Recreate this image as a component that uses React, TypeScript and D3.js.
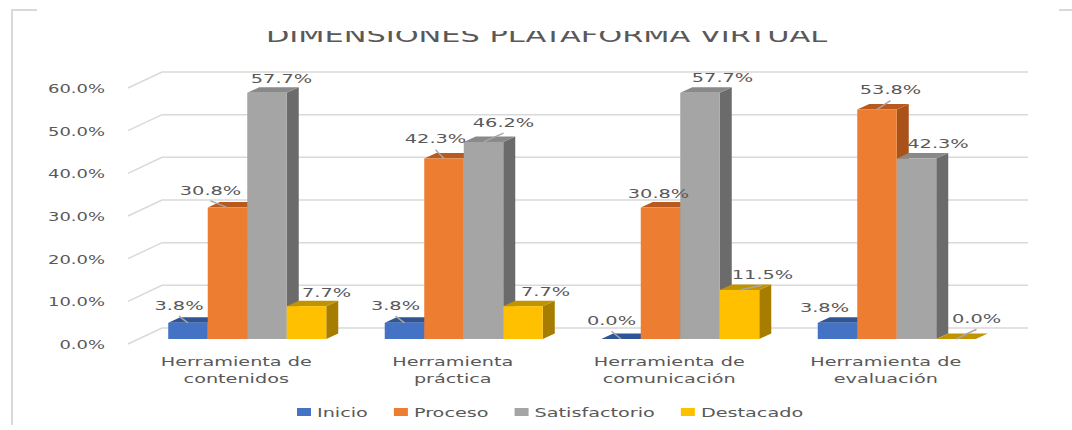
import React, { useEffect, useRef } from "react";
import * as d3 from "d3";

// ---------- data ----------
const title = "DIMENSIONES PLATAFORMA VIRTUAL";
const categories = [
  "Herramienta de contenidos",
  "Herramienta práctica",
  "Herramienta de comunicación",
  "Herramienta de evaluación",
];
const seriesNames = ["Inicio", "Proceso", "Satisfactorio", "Destacado"];
const inicio = [0.038, 0.038, 0.0, 0.038];
const proceso = [0.308, 0.423, 0.308, 0.538];
const satisfactorio = [0.577, 0.462, 0.577, 0.423];
const destacado = [0.077, 0.077, 0.115, 0.0];
const yTicks = [0, 0.1, 0.2, 0.3, 0.4, 0.5, 0.6];

// ---------- style ----------
const frontColors = ["#4472C4", "#ED7D31", "#A5A5A5", "#FFC000"];
const topColors = ["#2F5597", "#B85A1E", "#898989", "#C09400"];
const sideColors = ["#2E4F8A", "#A9521A", "#6B6B6B", "#A67D00"];
// label nudges [dx, dy] from the top-face centre, per series, per category
const labelNudge = [
  [[-15, -15], [-15, -15], [-15.5, -16], [-19, -13]],
  [[-23, -15], [-14.5, -17], [-8, -12], [7.5, -17]],
  [[8.5, -12], [14, -17], [16.5, -13], [15.5, -12]],
  [[14, -11.5], [16.5, -12], [17, -13], [14.5, -18]],
];
// [category, series] pairs that have a leader line
const leaders = [[0, 0], [0, 1], [1, 0], [1, 1], [1, 2], [2, 0], [2, 3], [3, 1], [3, 3]];

const W = 1072;
const H = 430;
const FONT = "'DejaVu Sans', Verdana, sans-serif";
const TEXT = "#595959";
const GRID = "#d9d9d9";

export default function App() {
  const ref = useRef<SVGSVGElement | null>(null);

  useEffect(() => {
    const svg = d3.select(ref.current);
    svg.selectAll("*").remove();

    const seriesValues = [inicio, proceso, satisfactorio, destacado];

    const frontLeft = 128;
    const frontRight = 994;
    const y = d3.scaleLinear().domain([0, 0.6]).range([344, 88]);
    const x0 = d3.scaleBand<string>().domain(categories).range([frontLeft, frontRight]).padding(0);
    const x1 = d3
      .scaleBand<string>()
      .domain(seriesNames)
      .range([0, x0.bandwidth()])
      .paddingInner(0)
      .paddingOuter(0.74);

    const backDx = 34, backDy = -16;
    const barDx = 11, barDy = -5;
    const depDx = 12, depDy = -5.5;

    const fmt = d3.format(".1%");

    // gridlines (back wall + left wall)
    const grid = svg.append("g");
    yTicks.forEach((t) => {
      const yf = y(t);
      grid
        .append("path")
        .attr("d", `M${frontLeft},${yf}L${frontLeft + backDx},${yf + backDy}H${frontRight + backDx}`)
        .attr("fill", "none")
        .attr("stroke", GRID)
        .attr("stroke-width", 1.5);
    });

    const stretchText = (
      g: any,
      txt: string,
      x: number,
      yy: number,
      size: number,
      sx: number,
      anchor: string,
      weight = "normal",
      color = TEXT
    ) =>
      g
        .append("text")
        .attr("transform", `translate(${x},${yy}) scale(${sx},1)`)
        .attr("text-anchor", anchor)
        .attr("font-family", FONT)
        .attr("font-size", size)
        .attr("font-weight", weight)
        .attr("fill", color)
        .text(txt);

    // y tick labels
    const axisG = svg.append("g");
    yTicks.forEach((t) => {
      stretchText(axisG, fmt(t), 105, y(t) + 5, 13, 1.38, "end");
    });

    // bars
    const barsG = svg.append("g");
    categories.forEach((cat, ci) => {
      seriesNames.forEach((s, si) => {
        const v = seriesValues[si][ci];
        const xl = (x0(cat) as number) + (x1(s) as number) + barDx;
        const w = x1.bandwidth();
        const yb = y(0) + barDy;
        const yt = y(v) + barDy;
        barsG
          .append("path")
          .attr("d", `M${xl + w},${yt}L${xl + w + depDx},${yt + depDy}L${xl + w + depDx},${yb + depDy}L${xl + w},${yb}Z`)
          .attr("fill", sideColors[si]);
        barsG
          .append("path")
          .attr("d", `M${xl},${yt}L${xl + w},${yt}L${xl + w + depDx},${yt + depDy}L${xl + depDx},${yt + depDy}Z`)
          .attr("fill", topColors[si]);
        if (yb - yt > 0) {
          barsG
            .append("rect")
            .attr("x", xl)
            .attr("y", yt)
            .attr("width", w)
            .attr("height", yb - yt)
            .attr("fill", frontColors[si]);
        }
      });
    });

    // data labels and leaders
    const labG = svg.append("g");
    categories.forEach((cat, ci) => {
      seriesNames.forEach((s, si) => {
        const v = seriesValues[si][ci];
        const xl = (x0(cat) as number) + (x1(s) as number) + barDx;
        const w = x1.bandwidth();
        const yt = y(v) + barDy;
        const cx = xl + w / 2 + depDx / 2;
        const cy = yt + depDy / 2;
        const [ndx, ndy] = labelNudge[si][ci];
        const lx = cx + ndx;
        const ly = cy + ndy;
        if (leaders.some(([c, ss]) => c === ci && ss === si)) {
          labG
            .append("line")
            .attr("x1", lx)
            .attr("y1", ly + 11)
            .attr("x2", xl + w / 2)
            .attr("y2", yt)
            .attr("stroke", "#a6a6a6")
            .attr("stroke-width", 1.5);
        }
        stretchText(labG, fmt(v), lx, ly + 4.7, 13, 1.49, "middle");
      });
    });

    // category labels
    const catG = svg.append("g");
    categories.forEach((cat) => {
      const words = cat.split(" ");
      const l1 = words.slice(0, -1).join(" ");
      const l2 = words[words.length - 1];
      const cx = (x0(cat) as number) + x0.bandwidth() / 2;
      stretchText(catG, l1, cx, 366, 13, 1.48, "middle");
      stretchText(catG, l2, cx, 382.5, 13, 1.48, "middle");
    });

    // legend
    const legG = svg.append("g");
    let lxPos = 297;
    const legY = 412;
    seriesNames.forEach((s, si) => {
      legG
        .append("rect")
        .attr("x", lxPos)
        .attr("y", legY - 4)
        .attr("width", 14)
        .attr("height", 8)
        .attr("fill", frontColors[si]);
      const t = stretchText(legG, s, lxPos + 20, legY + 4.7, 13, 1.48, "start");
      const tw = (t.node() as SVGTextElement).getComputedTextLength() * 1.48;
      lxPos += 20 + tw + 26;
    });

    // border
    svg
      .append("path")
      .attr("d", `M${W},10H12V425`)
      .attr("fill", "none")
      .attr("stroke", GRID)
      .attr("stroke-width", 2);

    // title
    stretchText(svg, title, 546.5, 42, 20, 1.52, "middle", "normal", "#595959");

    // white mask covering the top of the title and border
    svg.append("rect").attr("x", 37).attr("y", 0).attr("width", 1059 - 37).attr("height", 31).attr("fill", "#fff");
  }, []);

  return (
    <svg
      ref={ref}
      width={W}
      height={H}
      style={{ position: "absolute", left: 0, top: 0, background: "#fff" }}
    />
  );
}
